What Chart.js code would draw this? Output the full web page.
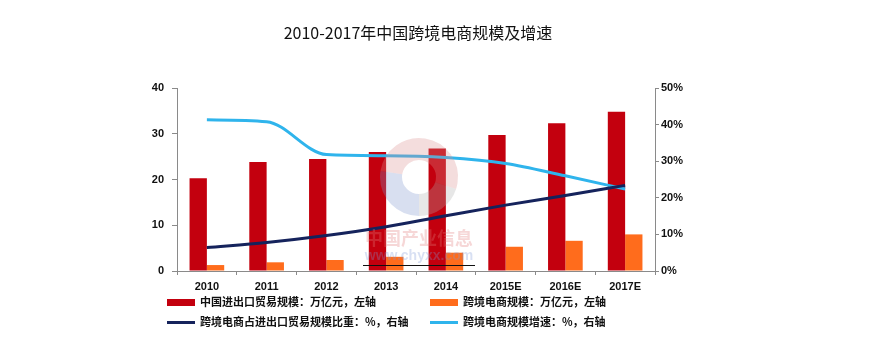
<!DOCTYPE html>
<html>
<head>
<meta charset="utf-8">
<script src="https://cdn.jsdelivr.net/npm/chart.js@4.4.1/dist/chart.umd.min.js"></script>
<style>
  body { margin: 0; background: #fff; }
  #wrap { position: relative; width: 892px; height: 346px; }
  #title {
    position: absolute; left: 0; width: 836px; top: 20px;
    text-align: center; font: 16px "Noto Sans CJK SC", sans-serif; color: #111;
  }
  .lg { position: absolute; font: bold 11px "Noto Sans CJK SC", sans-serif; color: #111; white-space: nowrap; }
  .lg i { display: inline-block; width: 28px; vertical-align: middle; margin-right: 5px; position: relative; top: -1px; }
</style>
</head>
<body>
<div id="wrap">
  <canvas id="chart" width="892" height="346"></canvas>
  <div id="title">2010-2017年中国跨境电商规模及增速</div>
  <div id="legend"></div>
</div>
<script>
const years = ['2010', '2011', '2012', '2013', '2014', '2015E', '2016E', '2017E'];
// 万亿元, left axis
const tradeScale = [20.3, 23.8, 24.5, 26.0, 26.8, 29.7, 32.3, 34.8];
const ecomScale = [1.3, 1.9, 2.4, 3.1, 4.0, 5.3, 6.6, 8.0];
// %, right axis
const ecomShare = [6.4, 7.8, 9.7, 12.1, 15.1, 18.0, 20.6, 23.4];
const ecomGrowth = [41.3, 40.8, 31.8, 31.5, 31.0, 29.4, 26.0, 22.4];

const leftTicks = [0, 10, 20, 30, 40];
const rightTicks = ['0%', '10%', '20%', '30%', '40%', '50%'];

const seriesNames = [
  '中国进出口贸易规模：万亿元，左轴',
  '跨境电商规模：万亿元，左轴',
  '跨境电商占进出口贸易规模比重：%，右轴',
  '跨境电商规模增速：%，右轴'
];
const seriesColors = ['#C3000E', '#FF6C1C', '#15235C', '#2FB4EC'];

const tickFont = { family: 'Liberation Sans, Arial, sans-serif', size: 11, weight: 'bold' };
const axisGray = '#8a8a8a';

// faint site watermark over the plot
const watermark = {
  id: 'watermark',
  afterDatasetsDraw(chart) {
    const ctx = chart.ctx;
    const cx = 419, cy = 177, r = 28;
    ctx.save();
    ctx.globalAlpha = 0.3;
    ctx.lineWidth = 22;
    ctx.strokeStyle = '#d98f8f';
    ctx.beginPath();
    ctx.arc(cx, cy, r, Math.PI * 1.05, Math.PI * 2.1);
    ctx.stroke();
    ctx.strokeStyle = '#7f95cc';
    ctx.beginPath();
    ctx.arc(cx, cy, r, Math.PI * 0.5, Math.PI * 1.05);
    ctx.stroke();
    ctx.strokeStyle = '#b0b0b0';
    ctx.beginPath();
    ctx.arc(cx, cy, r, Math.PI * 0.1, Math.PI * 0.5);
    ctx.stroke();
    ctx.font = 'bold 18px "Noto Sans CJK SC", sans-serif';
    ctx.fillStyle = '#e07b7b';
    ctx.textAlign = 'center';
    ctx.textBaseline = 'middle';
    ctx.fillText('中国产业信息', cx, 238);
    ctx.font = 'bold 14px Liberation Sans, Arial, sans-serif';
    ctx.fillStyle = '#7f98d8';
    ctx.fillText('www.chyxx.com', cx, 256);
    ctx.globalAlpha = 1;
    ctx.strokeStyle = '#111';
    ctx.lineWidth = 1.2;
    ctx.beginPath();
    ctx.moveTo(363, 265.5);
    ctx.lineTo(475, 265.5);
    ctx.stroke();
    ctx.restore();
  }
};

const chart = new Chart(document.getElementById('chart'), {
  data: {
    labels: years,
    datasets: [
      {
        type: 'line', label: seriesNames[3], data: ecomGrowth, yAxisID: 'y1',
        borderColor: seriesColors[3], borderWidth: 3, pointRadius: 0,
        cubicInterpolationMode: 'monotone', order: 1
      },
      {
        type: 'line', label: seriesNames[2], data: ecomShare, yAxisID: 'y1',
        borderColor: seriesColors[2], borderWidth: 3, pointRadius: 0,
        cubicInterpolationMode: 'monotone', order: 0
      },
      {
        type: 'bar', label: seriesNames[0], data: tradeScale, yAxisID: 'y',
        backgroundColor: seriesColors[0], categoryPercentage: 0.58, barPercentage: 1, order: 2
      },
      {
        type: 'bar', label: seriesNames[1], data: ecomScale, yAxisID: 'y',
        backgroundColor: seriesColors[1], categoryPercentage: 0.58, barPercentage: 1, order: 2
      }
    ]
  },
  options: {
    responsive: false,
    animation: false,
    layout: { padding: { top: 88, left: 0, right: 0, bottom: 0 } },
    plugins: { legend: { display: false }, title: { display: false }, tooltip: { enabled: false } },
    scales: {
      x: {
        offset: true,
        grid: { offset: true, drawOnChartArea: false, tickLength: 4, color: axisGray },
        border: { color: axisGray },
        ticks: { font: tickFont, color: '#111', padding: 5, maxRotation: 0 },
        afterFit: s => { s.height = 75; }
      },
      y: {
        position: 'left', min: 0, max: 40,
        grid: { drawOnChartArea: false, tickLength: 5, color: axisGray },
        border: { color: axisGray },
        afterBuildTicks: s => { s.ticks = leftTicks.map(v => ({ value: v })); },
        ticks: { font: tickFont, color: '#111', padding: 8 },
        afterFit: s => { s.width = 177; }
      },
      y1: {
        position: 'right', min: 0, max: 50,
        grid: { drawOnChartArea: false, tickLength: 4, color: axisGray },
        border: { color: axisGray },
        afterBuildTicks: s => { s.ticks = rightTicks.map(t => ({ value: parseFloat(t) })); },
        ticks: { font: tickFont, color: '#111', padding: 2, callback: (v, i) => rightTicks[i] },
        afterFit: s => { s.width = 892 - 655; }
      }
    }
  },
  plugins: [watermark]
});

// two-column legend under the axis
const legendSpots = [
  { x: 167, y: 293, h: 7 },
  { x: 430, y: 293, h: 7 },
  { x: 167, y: 313, h: 3 },
  { x: 430, y: 313, h: 3 }
];
const legendBox = document.getElementById('legend');
legendSpots.forEach((p, i) => {
  const el = document.createElement('div');
  el.className = 'lg';
  el.style.left = p.x + 'px';
  el.style.top = p.y + 'px';
  el.innerHTML = '<i style="height:' + p.h + 'px;background:' + seriesColors[i] + '"></i>' + seriesNames[i];
  legendBox.appendChild(el);
});
</script>
</body>
</html>
